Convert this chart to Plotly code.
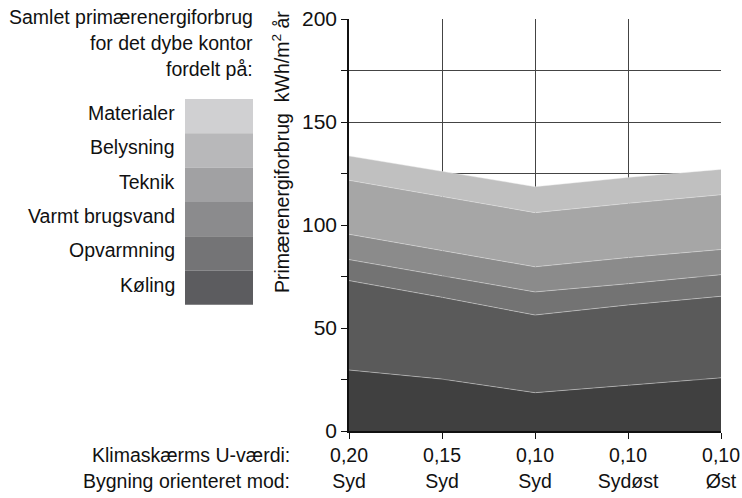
import plotly.graph_objects as go

FONT = "Liberation Sans, Arial, sans-serif"

# ── Data ────────────────────────────────────────────────────────────────────
U_VALUES = ["0,20", "0,15", "0,10", "0,10", "0,10"]
ORIENTATION = ["Syd", "Syd", "Syd", "Sydøst", "Øst"]

# kWh/m² år per post, bottom to top
KOLING = [29.6, 25.2, 18.6, 22.2, 25.8]
OPVARMNING = [43.4, 39.7, 37.7, 39.0, 39.6]
VARMT_BRUGSVAND = [10.2, 10.5, 11.2, 10.3, 10.5]
TEKNIK = [12.3, 12.2, 12.2, 12.7, 12.2]
BELYSNING = [26.2, 26.4, 26.3, 26.3, 26.6]
MATERIALER = [11.8, 12.0, 12.6, 12.6, 12.3]

SERIES_NAMES = ["Køling", "Opvarmning", "Varmt brugsvand", "Teknik", "Belysning", "Materialer"]
SERIES_VALUES = [KOLING, OPVARMNING, VARMT_BRUGSVAND, TEKNIK, BELYSNING, MATERIALER]
AREA_COLORS = ["#404040", "#5a5a5a", "#737373", "#8b8b8b", "#a6a6a6", "#c0c0c0"]
LEGEND_COLORS = ["#5c5c5f", "#747476", "#8b8b8d", "#a1a1a3", "#b8b8ba", "#d0d0d2"]

Y_TICKS = [0, 50, 100, 150, 200]

categories = [f"{u}<br>{o}" for u, o in zip(U_VALUES, ORIENTATION)]

W, H = 742, 498
# plot area in pixels
PL, PR, PT, PB = 349, 721, 19, 431


def px_x(px):
    return (px - PL) / (PR - PL)


def px_y(py):
    return (PB - py) / (PB - PT)


fig = go.Figure()

for name, vals, col in zip(SERIES_NAMES, SERIES_VALUES, AREA_COLORS):
    fig.add_trace(go.Scatter(
        x=categories, y=vals, name=name,
        mode="lines", stackgroup="one",
        fillcolor=col,
        line=dict(color="rgba(235,235,235,0.55)", width=0.8),
        showlegend=False,
        hovertemplate=f"{name}: %{{y}}<extra></extra>",
    ))

# ── Side legend (swatch column + labels) ──────────────────────────────────
shapes = []
annotations = []
sw_top, sw_h = 99, 34.3
for i, (name, col) in enumerate(zip(reversed(SERIES_NAMES), reversed(LEGEND_COLORS))):
    y0 = sw_top + i * sw_h
    shapes.append(dict(
        type="rect", xref="paper", yref="paper",
        x0=px_x(185), x1=px_x(253), y0=px_y(y0 + sw_h), y1=px_y(y0),
        fillcolor=col, line_width=0, layer="above",
    ))
    annotations.append(dict(
        x=px_x(177), y=px_y(y0 + sw_h / 2 - 3), xref="paper", yref="paper",
        text=name, showarrow=False, xanchor="right", yanchor="middle",
        font=dict(size=19.5, color="#111"),
    ))

for txt, py in [("Samlet primærenergiforbrug", 17),
                ("for det dybe kontor", 43),
                ("fordelt på:", 69)]:
    annotations.append(dict(
        x=px_x(255), y=px_y(py), xref="paper", yref="paper",
        text=txt, showarrow=False, xanchor="right", yanchor="middle",
        font=dict(size=19.5, color="#111"),
    ))

# y-axis title
annotations.append(dict(
    x=px_x(281), y=px_y(152), xref="paper", yref="paper",
    text="Primærenergiforbrug  kWh/m<sup>2</sup> år", textangle=-90,
    showarrow=False, xanchor="center", yanchor="middle",
    font=dict(size=19.5, color="#111"),
))

# x row headers
for txt, py in [("Klimaskærms U-værdi:", 455), ("Bygning orienteret mod:", 481)]:
    annotations.append(dict(
        x=px_x(292), y=px_y(py), xref="paper", yref="paper",
        text=txt, showarrow=False, xanchor="right", yanchor="middle",
        font=dict(size=19.5, color="#111"),
    ))

fig.update_layout(
    width=W, height=H,
    margin=dict(l=PL, r=W - PR, t=PT, b=H - PB),
    paper_bgcolor="white", plot_bgcolor="white",
    font=dict(family=FONT, size=19, color="#111"),
    shapes=shapes, annotations=annotations,
)

fig.update_xaxes(
    type="category", range=[0, len(categories) - 1], automargin=False,
    showgrid=True, gridcolor="#444", gridwidth=1.2,
    showline=True, linecolor="#111", linewidth=1.5,
    ticks="outside", ticklen=6, tickcolor="#111",
    tickfont=dict(size=19.5), ticklabeloverflow="allow",
)
fig.update_yaxes(
    range=[0, 200], tickvals=Y_TICKS, automargin=False,
    showgrid=True, gridcolor="#444", gridwidth=1.2,
    minor=dict(dtick=25, tick0=0, ticks="outside", ticklen=6, tickcolor="#111",
               showgrid=True, gridcolor="#444", gridwidth=1.2),
    showline=True, linecolor="#111", linewidth=1.5,
    ticks="outside", ticklen=6, tickcolor="#111",
    tickfont=dict(size=21), zeroline=False, ticklabeloverflow="allow",
)

# drop the default 8px page margin so the figure fills the window exactly
fig.write_html("out.html", config={"displayModeBar": False},
               post_script="document.body.style.margin='0';")
